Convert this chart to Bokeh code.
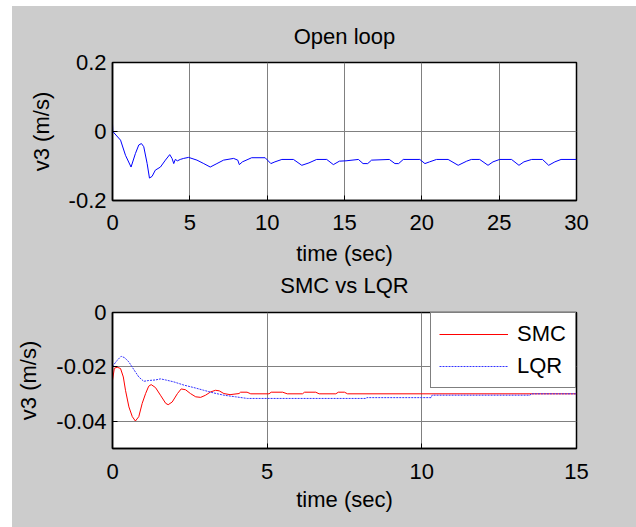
from bokeh.plotting import figure
from bokeh.layouts import column
from bokeh.models import FixedTicker, LinearAxis, Range1d, Legend, LegendItem
from bokeh.embed import file_html
from bokeh.resources import INLINE

# ---------------- data ----------------
t_open = [0, 0.02, 0.52, 0.84, 1.2, 1.48, 1.7, 1.87, 2.02, 2.24, 2.39, 2.56, 2.77, 3.1,
          3.42, 3.7, 3.85, 3.96, 4.06, 4.2, 4.38, 4.6, 4.92, 5.46, 5.9, 6.32, 6.75, 7.18,
          7.83, 8.1, 8.2, 8.4, 9.0, 9.87, 10.24, 10.5, 10.95, 11.7, 12.24, 12.7, 13.2,
          13.85, 14.28, 14.67, 15.1, 15.9, 16.2, 16.5, 16.75, 17.9, 18.26, 18.5, 18.8,
          19.87, 20.2, 20.5, 20.95, 21.7, 22.35, 22.9, 23.2, 23.74, 24.28, 24.6, 25.03,
          25.8, 26.28, 26.6, 27.1, 27.8, 28.2, 28.6, 29.0, 30.0]
v_open = [0.022, 0.0, -0.025, -0.069, -0.103, -0.064, -0.039, -0.035, -0.044, -0.093,
          -0.135, -0.130, -0.112, -0.103, -0.083, -0.067, -0.078, -0.093, -0.081, -0.085,
          -0.081, -0.078, -0.075, -0.083, -0.093, -0.103, -0.093, -0.083, -0.078, -0.083,
          -0.096, -0.088, -0.076, -0.076, -0.093, -0.088, -0.081, -0.081, -0.098, -0.091,
          -0.081, -0.081, -0.096, -0.086, -0.085, -0.081, -0.093, -0.093, -0.083, -0.081,
          -0.093, -0.093, -0.081, -0.081, -0.093, -0.088, -0.081, -0.081, -0.098, -0.086,
          -0.081, -0.081, -0.098, -0.088, -0.081, -0.081, -0.098, -0.088, -0.081, -0.081,
          -0.098, -0.088, -0.081, -0.081]

t_smc = [0, 0.06, 0.15, 0.26, 0.35, 0.42, 0.53, 0.64, 0.74, 0.85, 0.96, 1.07, 1.17, 1.25,
         1.39, 1.55, 1.72, 1.8, 1.93, 2.1, 2.22, 2.36, 2.52, 2.69, 2.85, 3.01, 3.17, 3.33,
         3.45, 3.6, 3.8, 4.09, 4.14, 4.35, 4.47, 5.06, 5.13, 5.5, 5.65, 6.14, 6.21, 6.57,
         6.68, 7.22, 7.3, 7.5, 7.6, 15.0]
v_smc = [-0.0249, -0.0205, -0.0201, -0.0206, -0.0237, -0.0286, -0.0347, -0.0383, -0.0399,
         -0.0383, -0.0334, -0.0298, -0.0271, -0.0265, -0.0276, -0.0304, -0.0334, -0.0339,
         -0.0329, -0.0298, -0.0281, -0.0284, -0.0298, -0.031, -0.0312, -0.0304, -0.0292,
         -0.0286, -0.0288, -0.0298, -0.0302, -0.0298, -0.0293, -0.0293, -0.0299, -0.0299,
         -0.0293, -0.0293, -0.0299, -0.0299, -0.0293, -0.0293, -0.0299, -0.0299, -0.0293,
         -0.0293, -0.0299, -0.0299]

t_lqr = [0, 0.15, 0.28, 0.39, 0.53, 0.69, 0.85, 1.01, 1.17, 1.39, 1.55, 1.72, 1.98, 2.31,
         2.63, 2.95, 3.28, 3.6, 3.98, 4.36, 8.19, 8.22, 10.3, 10.33, 13.5, 13.53, 15.0]
v_lqr = [-0.0198, -0.0176, -0.0161, -0.0166, -0.0182, -0.021, -0.0237, -0.0253, -0.025,
         -0.0248, -0.0244, -0.0248, -0.0255, -0.0267, -0.0276, -0.0286, -0.0296, -0.0304,
         -0.031, -0.0316, -0.0316, -0.0313, -0.0313, -0.0304, -0.0304, -0.0299, -0.0299]

top_xticks = [0, 5, 10, 15, 20, 25, 30]
top_yticks = [-0.2, 0, 0.2]
top_ylabels = ["-0.2", "0", "0.2"]
bot_xticks = [0, 5, 10, 15]
bot_yticks = [-0.04, -0.02, 0]
bot_ylabels = ["-0.04", "-0.02", "0"]

FONT = "Liberation Sans"
BG = "#cccccc"
FS = "22px"


def make_fig(h, xr, yr, xticks, yticks, ylabels, mt, mb, xtstand, xlstand):
    p = figure(width=624, height=h, x_range=Range1d(*xr), y_range=Range1d(*yr),
               output_backend="svg", toolbar_location=None,
               min_border_left=100, min_border_right=60,
               min_border_top=mt, min_border_bottom=mb,
               border_fill_color=BG, background_fill_color="white",
               x_axis_label="time (sec)", y_axis_label="v3 (m/s)")
    p.outline_line_color = "black"
    p.outline_line_width = 1.5

    for ax in p.xaxis:
        ax.ticker = FixedTicker(ticks=xticks)
    for ax in p.yaxis:
        ax.ticker = FixedTicker(ticks=yticks)
        ax.major_label_overrides = {v: s for v, s in zip(yticks, ylabels)}
    for ax in list(p.xaxis) + list(p.yaxis):
        ax.axis_line_color = "black"
        ax.axis_line_width = 1.5
        ax.major_tick_in = 5
        ax.major_tick_out = 0
        ax.major_tick_line_color = "black"
        ax.minor_tick_line_color = None
        ax.major_label_text_font = FONT
        ax.major_label_text_font_size = FS
        ax.major_label_text_color = "black"
        ax.axis_label_text_font = FONT
        ax.axis_label_text_font_size = FS
        ax.axis_label_text_font_style = "normal"
        ax.axis_label_text_color = "black"
    p.xaxis.major_label_standoff = xtstand
    p.xaxis.axis_label_standoff = xlstand
    p.yaxis.major_label_standoff = 6
    p.yaxis.axis_label_standoff = 12

    p.grid.grid_line_color = "#808080"
    p.grid.grid_line_width = 1
    p.xgrid.ticker = FixedTicker(ticks=xticks)
    p.ygrid.ticker = FixedTicker(ticks=yticks)
    return p


# ---- top panel: open loop ----
p1 = make_fig(263, (0, 30), (-0.2, 0.2), top_xticks, top_yticks, top_ylabels, 56, 69, 14, 8)
p1.title.text = "Open loop"
p1.title.text_font = FONT
p1.title.text_font_size = FS
p1.title.text_font_style = "normal"
p1.title.align = "center"
p1.title.text_color = "black"
p1.title.standoff = 27
p1.line(t_open, v_open, line_color="#0000ff", line_width=1)

# ---- bottom panel: SMC vs LQR ----
p2 = make_fig(258, (0, 15), (-0.05, 0), bot_xticks, bot_yticks, bot_ylabels, 43, 79, 15, 5)
top_axis = LinearAxis(ticker=FixedTicker(ticks=[]), major_label_text_font_size="0px",
                      axis_line_color=None, major_tick_in=0, major_tick_out=0,
                      minor_tick_line_color=None, major_label_standoff=0,
                      axis_label="SMC vs LQR", axis_label_standoff=15,
                      axis_label_text_font=FONT, axis_label_text_font_size=FS,
                      axis_label_text_font_style="normal", axis_label_text_color="black")
p2.add_layout(top_axis, "above")
r_smc = p2.line(t_smc, v_smc, line_color="#ff0000", line_width=1)
r_lqr = p2.line(t_lqr, v_lqr, line_color="#3333ff", line_width=1, line_dash="2 1")

legend = Legend(items=[LegendItem(label="SMC", renderers=[r_smc]),
                       LegendItem(label="LQR", renderers=[r_lqr])],
                location="top_right", margin=0, padding=8, spacing=6,
                glyph_width=69, glyph_height=20, label_height=20, label_width=50,
                label_standoff=9, border_line_color="black", border_line_width=1,
                background_fill_color="white", background_fill_alpha=1.0,
                label_text_font=FONT, label_text_font_size=FS, label_text_color="black")
p2.add_layout(legend)

layout = column(p1, p2, spacing=0, margin=(6, 0, 0, 12),
                styles={"background-color": BG})

open("out.html", "w").write(file_html(layout, INLINE))
